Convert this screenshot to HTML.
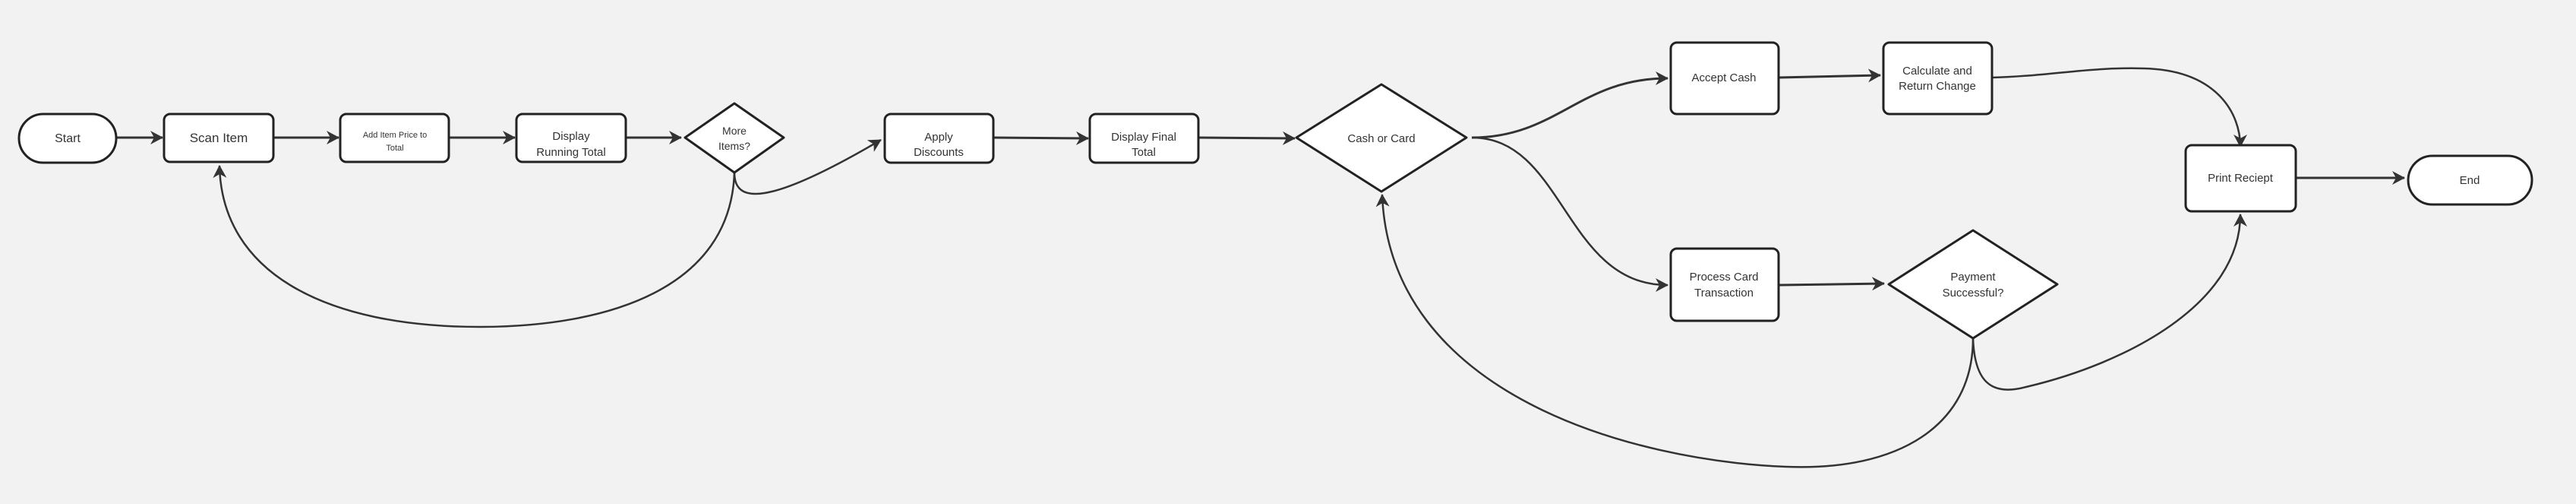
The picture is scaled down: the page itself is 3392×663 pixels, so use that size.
<!DOCTYPE html>
<html><head><meta charset="utf-8"><style>
html,body{margin:0;padding:0;background:#f2f2f2;}
svg{display:block;}
text{font-family:"Liberation Sans",sans-serif;fill:#333;text-anchor:middle;}
</style></head><body>
<svg width="3392" height="663" viewBox="0 0 3392 663" xmlns="http://www.w3.org/2000/svg">
<defs>
<marker id="a" markerUnits="userSpaceOnUse" markerWidth="20" markerHeight="20" refX="16" refY="9" orient="auto">
<path d="M0,0 L17,9 L0,18 L5,9 Z" fill="#333"/>
</marker>
</defs>
<rect width="3392" height="663" fill="#f2f2f2"/>
<g fill="none" stroke="#333" stroke-width="3">
<path d="M154,181 L214,181" marker-end="url(#a)"/>
<path d="M360,181 L446,181" marker-end="url(#a)"/>
<path d="M591,181 L678,181" marker-end="url(#a)"/>
<path d="M824,181 L897,181" marker-end="url(#a)"/>
<path d="M1308,181 L1433,182" marker-end="url(#a)"/>
<path d="M1579,181 L1705,182" marker-end="url(#a)"/>
<path d="M2343,102 L2476,99" marker-end="url(#a)"/>
<path d="M2343,375 L2481,373" marker-end="url(#a)"/>
<path d="M3023,234 L3166,234" marker-end="url(#a)"/>
<path stroke-width="2.5" d="M967,227 C962,380 800,430 631,430 C430,430 292,360 289,218" marker-end="url(#a)"/>
<path stroke-width="2.5" d="M967,227 C967,268 1010,272 1160,184" marker-end="url(#a)"/>
<path d="M1938,181 C2050,181 2080,103 2196,103" marker-end="url(#a)"/>
<path stroke-width="2.5" d="M1938,181 C2060,181 2060,375 2196,375" marker-end="url(#a)"/>
<path stroke-width="2.5" d="M2598,445 C2598,560 2500,620 2352,614 C2150,606 1830,520 1820,256" marker-end="url(#a)"/>
<path stroke-width="2.5" d="M2598,445 C2600,500 2620,522 2668,509 C2800,478 2950,400 2950,282" marker-end="url(#a)"/>
<path stroke-width="2.5" d="M2623,102 C2700,100 2750,88 2822,90 C2920,92 2950,150 2950,193" marker-end="url(#a)"/>
</g>
<g fill="#fff" stroke="#222" stroke-width="3" stroke-linejoin="round">
<rect x="25" y="150" width="128" height="64" rx="32"/>
<rect x="216" y="150" width="144" height="63" rx="8"/>
<rect x="448" y="150" width="143" height="63" rx="8"/>
<rect x="680" y="150" width="144" height="63" rx="8"/>
<polygon points="967,136 1032,181 967,227 902,181"/>
<rect x="1165" y="150" width="143" height="64" rx="8"/>
<rect x="1435" y="150" width="143" height="64" rx="8"/>
<polygon points="1819,111 1931,181 1819,252 1707,181"/>
<rect x="2200" y="56" width="142" height="94" rx="8"/>
<rect x="2480" y="56" width="143" height="94" rx="8"/>
<rect x="2200" y="327" width="142" height="95" rx="8"/>
<polygon points="2598,303 2709,374 2598,445 2487,374"/>
<rect x="2878" y="191" width="145" height="87" rx="8"/>
<rect x="3171" y="205" width="163" height="64" rx="32"/>
</g>
<g font-size="15">
<text x="89" y="187" font-size="16">Start</text>
<text x="288" y="187" font-size="17">Scan Item</text>
<text x="520" y="181" font-size="11">Add Item Price to</text>
<text x="520" y="198" font-size="11">Total</text>
<text x="752" y="184">Display</text>
<text x="752" y="205">Running Total</text>
<text x="967" y="177" font-size="14">More</text>
<text x="967" y="197" font-size="14">Items?</text>
<text x="1236" y="185">Apply</text>
<text x="1236" y="205">Discounts</text>
<text x="1506" y="185">Display Final</text>
<text x="1506" y="205">Total</text>
<text x="1819" y="187">Cash or Card</text>
<text x="2270" y="107">Accept Cash</text>
<text x="2551" y="98">Calculate and</text>
<text x="2551" y="118">Return Change</text>
<text x="2270" y="369">Process Card</text>
<text x="2270" y="390">Transaction</text>
<text x="2598" y="369">Payment</text>
<text x="2598" y="390">Successful?</text>
<text x="2950" y="239">Print Reciept</text>
<text x="3252" y="242">End</text>
</g>
</svg>
</body></html>
